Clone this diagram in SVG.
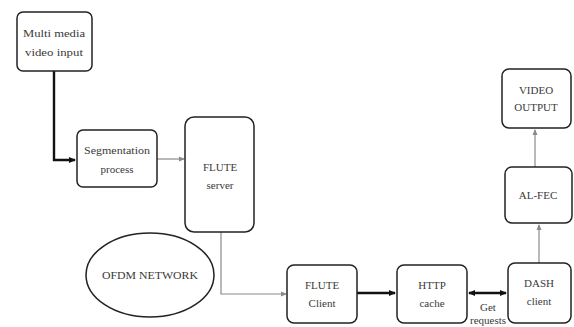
<svg xmlns="http://www.w3.org/2000/svg" width="574" height="327" viewBox="0 0 574 327">
<style>
.box{fill:#fff;stroke:#222;stroke-width:1.5}
.t{font-family:"Liberation Serif",serif;font-size:11px;fill:#3a3a3a;text-anchor:middle}
.thin{fill:none;stroke:#8a8a8a;stroke-width:1.2}
.thick{fill:none;stroke:#111;stroke-width:2.4}
</style>
<defs>
<marker id="ag" markerWidth="6" markerHeight="6" refX="5" refY="3" orient="auto" markerUnits="userSpaceOnUse"><path d="M0,0.5 L6,3 L0,5.5z" fill="#8a8a8a"/></marker>
<marker id="ak" markerWidth="7" markerHeight="7" refX="6" refY="3.5" orient="auto-start-reverse" markerUnits="userSpaceOnUse"><path d="M0,0.5 L7,3.5 L0,6.5z" fill="#111"/></marker>
</defs>
<rect width="574" height="327" fill="#fff"/>
<g id="connectors">
<path class="thick" d="M54,71 V160 H75" marker-end="url(#ak)"/>
<path class="thin" d="M157,159 H184" marker-end="url(#ag)"/>
<path class="thin" d="M221,232 V294 H286" marker-end="url(#ag)"/>
<path class="thick" d="M357,293 H395" marker-end="url(#ak)"/>
<path class="thick" d="M469,293 H506" marker-start="url(#ak)" marker-end="url(#ak)"/>
<path class="thin" d="M539,263 V225" marker-end="url(#ag)"/>
<path class="thin" d="M535,167 V130" marker-end="url(#ag)"/>
</g>
<g id="n1"><rect class="box" x="17" y="12" width="75" height="59" rx="6"/><text class="t" x="54" y="37" textLength="62" lengthAdjust="spacingAndGlyphs">Multi media</text><text class="t" x="54" y="56" textLength="58" lengthAdjust="spacingAndGlyphs">video input</text></g>
<g id="n2"><rect class="box" x="77" y="130" width="80" height="57" rx="6"/><text class="t" x="117" y="154" textLength="66" lengthAdjust="spacingAndGlyphs">Segmentation</text><text class="t" x="117" y="173">process</text></g>
<g id="n3"><rect class="box" x="185" y="117" width="69" height="115" rx="9"/><text class="t" x="220" y="171" font-size="12">FLUTE</text><text class="t" x="220" y="189" font-size="10">server</text></g>
<g id="n4"><ellipse class="box" cx="150" cy="275" rx="64" ry="42"/><text class="t" x="150" y="279" textLength="96" lengthAdjust="spacingAndGlyphs">OFDM NETWORK</text></g>
<g id="n5"><rect class="box" x="287" y="265" width="70" height="58" rx="7"/><text class="t" x="322" y="289">FLUTE</text><text class="t" x="322" y="307">Client</text></g>
<g id="n6"><rect class="box" x="397" y="265" width="70" height="58" rx="7"/><text class="t" x="432" y="289">HTTP</text><text class="t" x="432" y="307">cache</text></g>
<g id="n7"><rect class="box" x="508" y="263" width="63" height="60" rx="7"/><text class="t" x="539" y="287">DASH</text><text class="t" x="539" y="305">client</text></g>
<g id="n8"><rect class="box" x="505" y="167" width="67" height="56" rx="7"/><text class="t" x="538" y="199">AL-FEC</text></g>
<g id="n9"><rect class="box" x="502" y="69" width="69" height="59" rx="7"/><text class="t" x="536" y="94">VIDEO</text><text class="t" x="536" y="111">OUTPUT</text></g>
<g id="label"><text class="t" x="488" y="311">Get</text><text class="t" x="488" y="324" font-size="9">requests</text></g>
</svg>
